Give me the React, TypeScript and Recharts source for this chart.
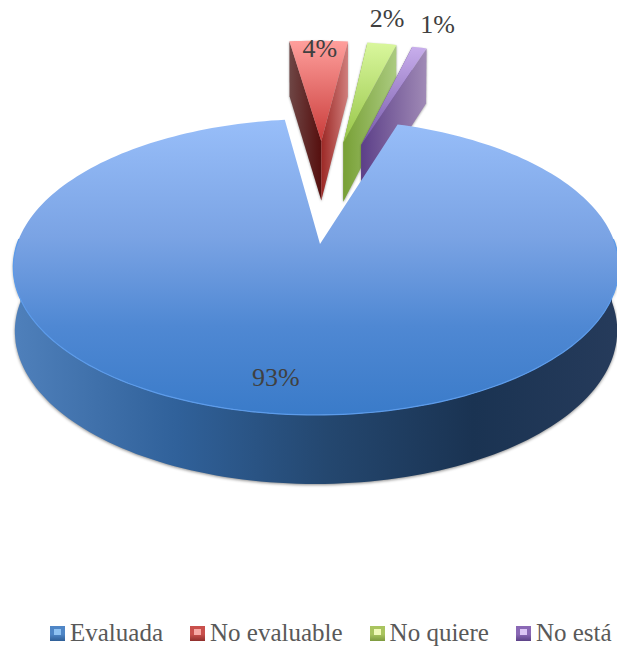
import { PieChart, Pie, Legend } from 'recharts';

const categories = ['Evaluada', 'No evaluable', 'No quiere', 'No está'];
const shares = [93, 4, 2, 1];
const pieData = categories.map((name, i) => ({ name, value: shares[i] }));

// clockwise degrees from 12 o'clock where the first slice begins
const FIRST_SLICE = 17.4;

// projection of the tilted disc
const RADIUS = 299;
const PERSPECTIVE = 0.155;
const LEAN = 0.013;
const FLATTEN = 0.483;
const DEPTH = 63.2;
const DEPTH_FALLOFF = 0.0844;

// how far each slice is pulled out of the disc, in radius units
const EXPLODE = [
  [0, 0],
  [0.005, 0.8],
  [0.088, 0.79],
  [0.155, 0.77],
];

const SLICE_COLORS = [
  { top: ['#98bef9', '#3a7bc9'], left: ['#000', '#000'], right: ['#000', '#000'] },
  { top: ['#ff9f9c', '#c93c3a'], left: ['#6e4645', '#560f0e'], right: ['#9c2825', '#d07f7d'] },
  { top: ['#d9f79d', '#97c548'], left: ['#7a9e3a', '#7a9e3a'], right: ['#78a036', '#abcb80'] },
  { top: ['#c8aeec', '#7558a8'], left: ['#5f4388', '#5f4388'], right: ['#5c3f88', '#a08ab6'] },
];

// legend swatch: highlight, body, lower edge
const MARKER_COLORS = [
  ['#8fc2f2', '#4f86c6', '#2f5f97'],
  ['#f7a8a4', '#c9504c', '#8f2f2c'],
  ['#f0f9b8', '#a9c45f', '#7d9a3f'],
  ['#dcc6f5', '#8a68b5', '#5c4287'],
];

const LABEL_PLACES = [
  { r: 0.81, dx: -21, dy: 0 },
  { r: 1, dx: 1, dy: 8 },
  { r: 1, dx: 5, dy: -25 },
  { r: 1, dx: 18, dy: -23 },
];

const TEXT_FONT = '"Liberation Serif", serif';

type Pt = [number, number];

const toTop = (cx: number, cy: number, R: number, u: number, v: number): Pt => {
  const w = 1 + PERSPECTIVE * v + LEAN * u;
  return [cx + (R * u) / w, cy - (R * FLATTEN * v) / w];
};

const toBottom = (cx: number, cy: number, R: number, u: number, v: number): Pt => {
  const [x, y] = toTop(cx, cy, R, u, v);
  return [cx + (x - cx) * 0.995, y + DEPTH / (1 + DEPTH_FALLOFF * v)];
};

const pathOf = (pts: Pt[], close = true) =>
  'M' + pts.map((p) => `${p[0].toFixed(1)},${p[1].toFixed(1)}`).join('L') + (close ? 'Z' : '');

const rad = (deg: number) => (deg * Math.PI) / 180;

const arcAngles = (from: number, to: number) => {
  const steps = Math.max(2, Math.ceil((to - from) / 1.5));
  return Array.from({ length: steps + 1 }, (_, i) => from + ((to - from) * i) / steps);
};

const vGrad = (id: string, stops: [number, string][]) => (
  <linearGradient id={id} x1="0" y1="0" x2="0" y2="1">
    {stops.map(([o, c]) => (
      <stop key={o} offset={o} stopColor={c} />
    ))}
  </linearGradient>
);

const hGrad = (id: string, stops: [number, string][]) => (
  <linearGradient id={id} x1="0" y1="0" x2="1" y2="0">
    {stops.map(([o, c]) => (
      <stop key={o} offset={o} stopColor={c} />
    ))}
  </linearGradient>
);

// Draws one slice as a 3D wedge; `front` selects the main slice or the pulled-out ones
const wedge = (front: boolean) => (props: any) => {
  const { cx, cy, outerRadius: R, startAngle, endAngle, name } = props;
  const idx = categories.indexOf(name);
  if ((idx === 0) !== front) return <g />;

  const a1 = 90 - Math.max(startAngle, endAngle);
  const a2 = 90 - Math.min(startAngle, endAngle);
  const [du, dv] = EXPLODE[idx];
  const c = SLICE_COLORS[idx];
  const rim = (a: number): [number, number] => [Math.sin(rad(a)) + du, Math.cos(rad(a)) + dv];
  const hub: [number, number] = [du, dv];
  const angles = arcAngles(a1, a2);

  const topFace = pathOf([
    toTop(cx, cy, R, hub[0], hub[1]),
    ...angles.map((a) => toTop(cx, cy, R, ...rim(a))),
  ]);

  if (idx === 0) {
    const wallAngles = arcAngles(Math.max(a1, 88), Math.min(a2, 272));
    const wall = pathOf([
      ...wallAngles.map((a) => toTop(cx, cy, R, ...rim(a))),
      ...[...wallAngles].reverse().map((a) => toBottom(cx, cy, R, ...rim(a))),
    ]);
    const edge = pathOf(wallAngles.map((a) => toTop(cx, cy, R, ...rim(a))), false);
    return (
      <g>
        <defs>
          {hGrad('mainWall', [
            [0, '#4f80bb'],
            [0.27, '#30619a'],
            [0.52, '#24476f'],
            [0.76, '#1a3352'],
            [1, '#263b5b'],
          ])}
          {vGrad('mainTop', [
            [0, c.top[0]],
            [0.4, '#7aa3e4'],
            [0.7, '#4f88d3'],
            [1, c.top[1]],
          ])}
        </defs>
        <path d={wall} fill="url(#mainWall)" style={{ filter: 'drop-shadow(0 1px 1.5px rgba(0,0,0,.45))' }} />
        <path d={topFace} fill="url(#mainTop)" />
        <path d={edge} fill="none" stroke="#5c9bea" strokeWidth={1.2} />
      </g>
    );
  }

  const side = (a: number) =>
    pathOf([
      toTop(cx, cy, R, hub[0], hub[1]),
      toTop(cx, cy, R, ...rim(a)),
      toBottom(cx, cy, R, ...rim(a)),
      toBottom(cx, cy, R, hub[0], hub[1]),
    ]);

  return (
    <g style={{ filter: 'drop-shadow(0 1px 1px rgba(0,0,0,.35))' }}>
      <defs>
        {hGrad(`left${idx}`, [
          [0, c.left[0]],
          [1, c.left[1]],
        ])}
        {hGrad(`right${idx}`, [
          [0, c.right[0]],
          [1, c.right[1]],
        ])}
        {vGrad(`top${idx}`, [
          [0, c.top[0]],
          [1, c.top[1]],
        ])}
      </defs>
      <path d={side(a1)} fill={`url(#left${idx})`} />
      <path d={side(a2)} fill={`url(#right${idx})`} />
      <path d={topFace} fill={`url(#top${idx})`} />
    </g>
  );
};

const percentLabel = (front: boolean) => (props: any) => {
  const { cx, cy, outerRadius: R, name, value, startAngle, endAngle } = props;
  const idx = categories.indexOf(name);
  if ((idx === 0) !== front) return <g />;
  const mid = 90 - (startAngle + endAngle) / 2;
  const place = LABEL_PLACES[idx];
  const [du, dv] = EXPLODE[idx];
  const [x, y] = toTop(
    cx,
    cy,
    R,
    Math.sin(rad(mid)) * place.r + du,
    Math.cos(rad(mid)) * place.r + dv,
  );
  return (
    <text
      x={x + place.dx}
      y={y + place.dy}
      textAnchor="middle"
      dominantBaseline="central"
      fontFamily={TEXT_FONT}
      fontSize={26}
      fill="#404040"
    >
      {`${value}%`}
    </text>
  );
};

const LegendRow = () => (
  <div
    style={{
      display: 'flex',
      alignItems: 'center',
      fontFamily: TEXT_FONT,
      fontSize: 25,
      lineHeight: '28px',
      color: '#595959',
      whiteSpace: 'nowrap',
    }}
  >
    {categories.map((name, i) => (
      <span key={name} style={{ display: 'inline-flex', alignItems: 'center', marginRight: 27 }}>
        <span
          style={{
            width: 15,
            height: 15,
            marginRight: 5,
            background: `linear-gradient(${MARKER_COLORS[i][0]}, ${MARKER_COLORS[i][0]}) center 3px / 7px 6px no-repeat, linear-gradient(${MARKER_COLORS[i][1]} 55%, ${MARKER_COLORS[i][2]})`,
          }}
        />
        {name}
      </span>
    ))}
  </div>
);

export default function App() {
  return (
    <div style={{ position: 'absolute', left: 0, top: 0, width: 617, height: 648 }}>
      <PieChart width={617} height={648} margin={{ top: 0, right: 0, bottom: 0, left: 0 }}>
        {/* pulled-out slices sit behind the main slice */}
        <Pie
          data={pieData}
          dataKey="value"
          nameKey="name"
          cx={320}
          cy={244}
          outerRadius={RADIUS}
          startAngle={90 - FIRST_SLICE}
          endAngle={90 - FIRST_SLICE - 360}
          stroke="none"
          shape={wedge(false)}
          label={percentLabel(false)}
          labelLine={false}
          isAnimationActive={false}
        />
        <Pie
          data={pieData}
          dataKey="value"
          nameKey="name"
          cx={320}
          cy={244}
          outerRadius={RADIUS}
          startAngle={90 - FIRST_SLICE}
          endAngle={90 - FIRST_SLICE - 360}
          stroke="none"
          shape={wedge(true)}
          label={percentLabel(true)}
          labelLine={false}
          isAnimationActive={false}
        />
        <Legend
          content={<LegendRow />}
          wrapperStyle={{ position: 'absolute', left: 50, top: 619, width: 567, bottom: 'auto' }}
        />
      </PieChart>
    </div>
  );
}
